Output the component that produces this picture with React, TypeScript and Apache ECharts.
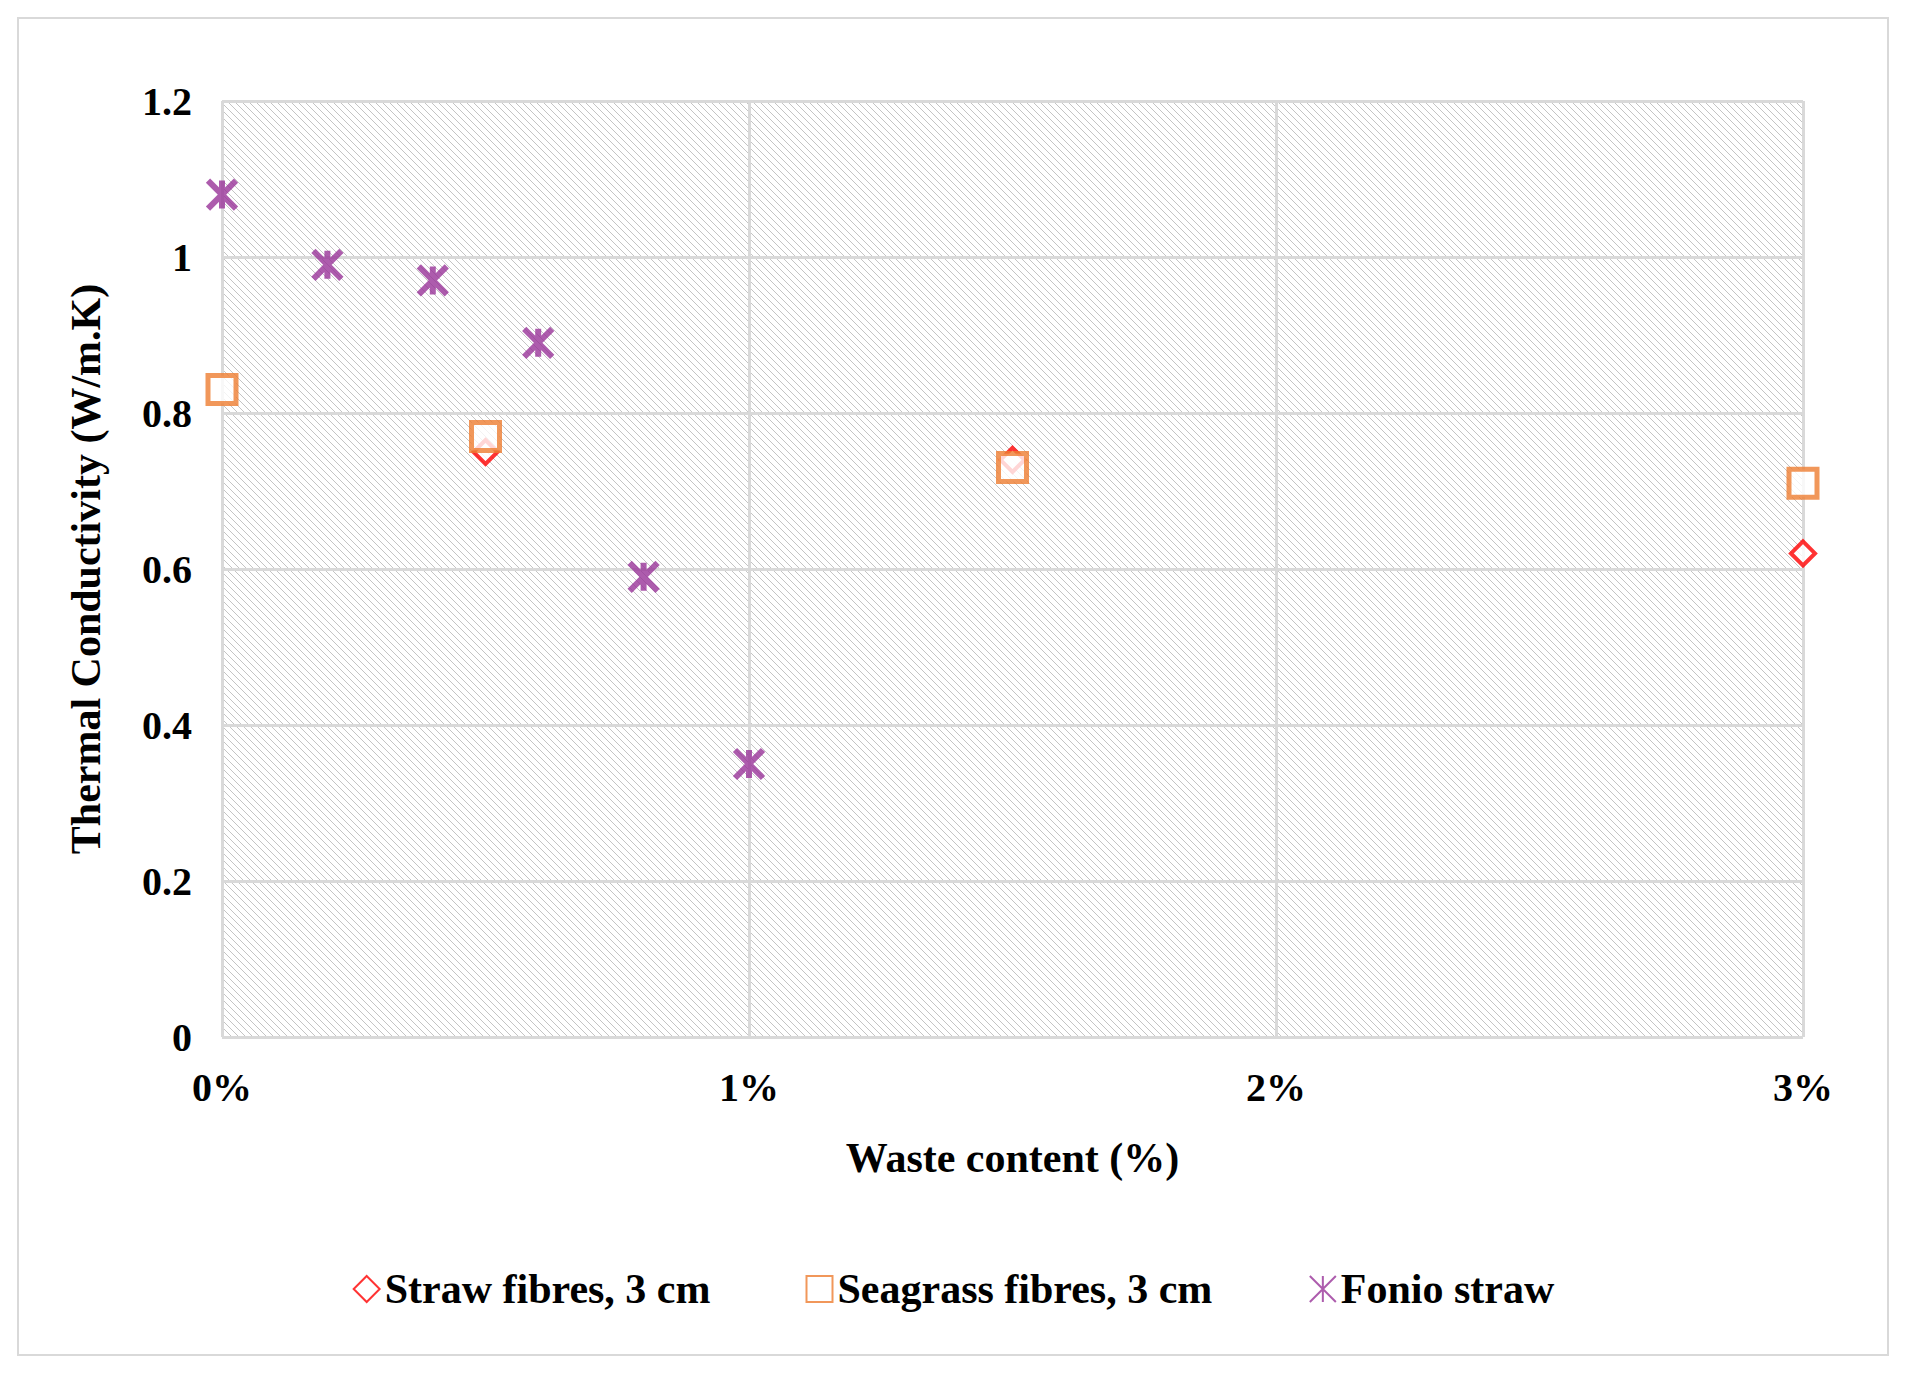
import React, { useEffect, useRef } from 'react'
import * as echarts from 'echarts'

const strawX = [0.5, 1.5, 3]
const strawY = [0.75, 0.74, 0.62]
const seagrassX = [0, 0.5, 1.5, 3]
const seagrassY = [0.83, 0.77, 0.73, 0.71]
const fonioX = [0, 0.2, 0.4, 0.6, 0.8, 1]
const fonioY = [1.08, 0.99, 0.97, 0.89, 0.59, 0.35]

const font = 'Liberation Serif'
const pair = (xs: number[], ys: number[]) => xs.map((x, i) => [x, ys[i]])

const makeHatch = () => {
  const c = document.createElement('canvas')
  c.width = 7
  c.height = 7
  const g = c.getContext('2d')!
  g.fillStyle = '#ffffff'
  g.fillRect(0, 0, 7, 7)
  g.strokeStyle = '#c4c4c4'
  g.lineWidth = 1
  g.beginPath()
  g.moveTo(-1, -1); g.lineTo(8, 8)
  g.moveTo(-1, 6); g.lineTo(1, 8)
  g.moveTo(6, -1); g.lineTo(8, 1)
  g.stroke()
  return c
}

const App = () => {
  const chartRef = useRef<HTMLDivElement>(null)

  useEffect(() => {
    if (!chartRef.current) return
    const chart = echarts.init(chartRef.current, undefined, { renderer: 'svg' })
    chart.setOption({
      animation: false,
      backgroundColor: '#ffffff',
      graphic: [{
        type: 'rect', shape: { x: 18, y: 18, width: 1870, height: 1337 },
        style: { fill: 'none', stroke: '#d9d9d9', lineWidth: 2 }, silent: true
      }],
      grid: {
        left: 222, right: 104, top: 101, bottom: 338, show: true,
        backgroundColor: { image: makeHatch(), repeat: 'repeat' } as any,
        borderWidth: 0
      },
      xAxis: {
        type: 'value', min: 0, max: 3, interval: 1,
        name: 'Waste content (%)', nameLocation: 'middle', nameGap: 100,
        nameTextStyle: { fontFamily: font, fontWeight: 'bold', fontSize: 42, color: '#000' },
        axisLine: { show: false }, axisTick: { show: false },
        axisLabel: { formatter: (v: number) => v + '%', fontFamily: font, fontWeight: 'bold', fontSize: 40, color: '#000', margin: 30 },
        splitLine: { show: true, lineStyle: { color: '#d9d9d9', width: 3 } }
      },
      yAxis: {
        type: 'value', min: 0, max: 1.2, interval: 0.2,
        name: 'Thermal Conductivity (W/m.K)', nameLocation: 'middle', nameGap: 115,
        nameTextStyle: { fontFamily: font, fontWeight: 'bold', fontSize: 42, color: '#000' },
        axisLine: { show: false }, axisTick: { show: false },
        axisLabel: { formatter: (v: number) => String(Math.round(v * 10) / 10), fontFamily: font, fontWeight: 'bold', fontSize: 40, color: '#000', margin: 30 },
        splitLine: { show: true, lineStyle: { color: '#d9d9d9', width: 3 } }
      },
      legend: {
        bottom: 60, left: 'center', itemGap: 95, itemWidth: 26, itemHeight: 26,
        textStyle: { fontFamily: font, fontWeight: 'bold', fontSize: 42, color: '#000' },
        data: ['Straw fibres, 3 cm', 'Seagrass fibres, 3 cm', 'Fonio straw']
      },
      series: [
        {
          name: 'Straw fibres, 3 cm', type: 'scatter', data: pair(strawX, strawY),
          symbol: 'diamond', symbolSize: 24,
          itemStyle: { color: '#ffffff', borderColor: '#ff0000', borderWidth: 4 }
        },
        {
          name: 'Seagrass fibres, 3 cm', type: 'scatter', data: pair(seagrassX, seagrassY),
          symbol: 'rect', symbolSize: 28,
          itemStyle: { color: '#ffffff', borderColor: '#ed7d31', borderWidth: 5 }
        },
        {
          name: 'Fonio straw', type: 'scatter', data: pair(fonioX, fonioY),
          symbol: 'path://M0,0L10,10M10,0L0,10M5,0L5,10', symbolSize: 28,
          itemStyle: { color: 'none', borderColor: '#993399', borderWidth: 6 }
        }
      ]
    })
    return () => { chart.dispose() }
  }, [])

  return <div ref={chartRef} style={{ position: 'absolute', left: 0, top: 0, width: 1907, height: 1375 }} />
}

export default App
